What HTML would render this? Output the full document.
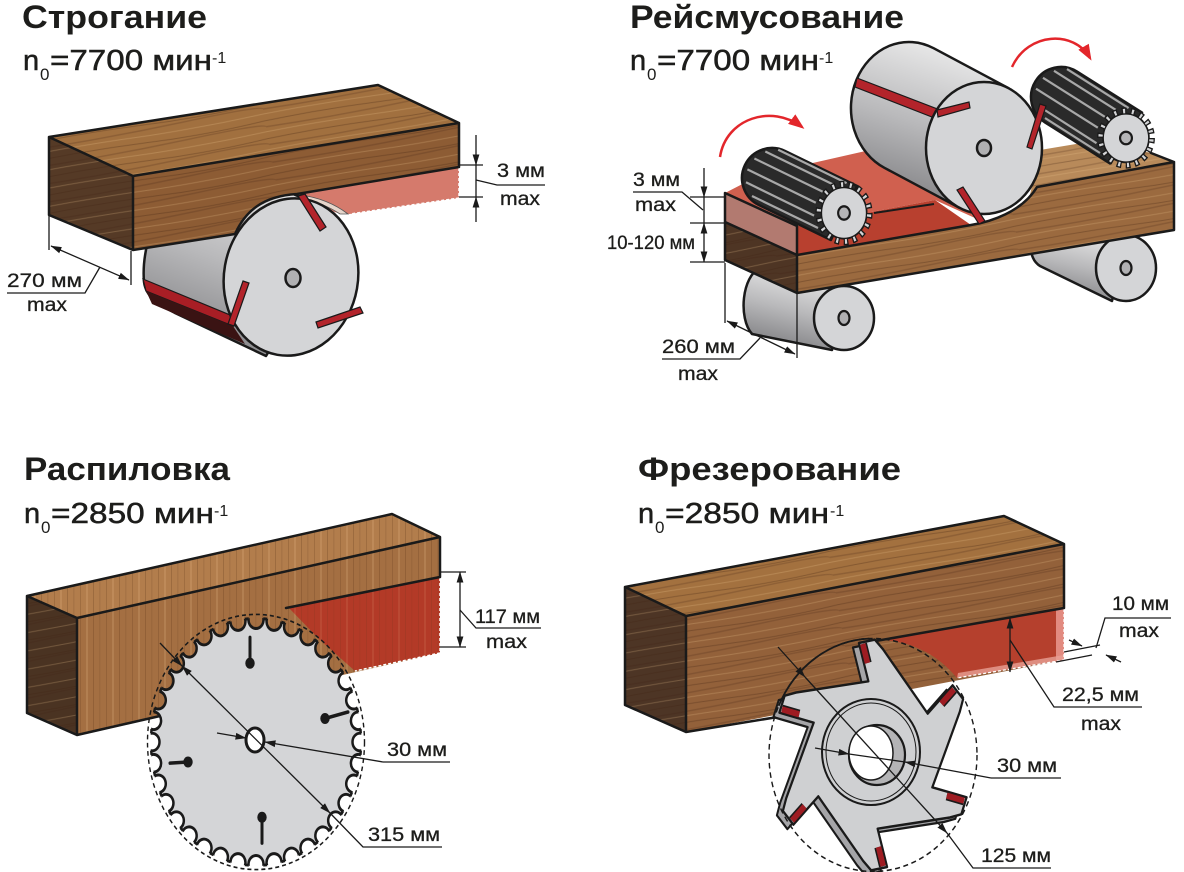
<!DOCTYPE html>
<html><head><meta charset="utf-8"><style>
html,body{margin:0;padding:0;background:#fff;}
svg{display:block;}
text{font-family:"Liberation Sans","DejaVu Sans",sans-serif;fill:#1d1d1b;}
.t{font-size:32px;font-weight:bold;}
.s{font-size:29px;stroke:#1d1d1b;stroke-width:0.5;}
.l{font-size:19px;stroke:#1d1d1b;stroke-width:0.3;}
.o{stroke:#1a1a1a;stroke-width:2.5;stroke-linejoin:round;stroke-linecap:round;}
.d{fill:none;stroke:#1a1a1a;stroke-width:1.3;}
</style></head><body>
<svg width="1184" height="872" viewBox="0 0 1184 872" xmlns="http://www.w3.org/2000/svg">
<defs>
 <marker id="a" markerUnits="userSpaceOnUse" markerWidth="11" markerHeight="8" refX="10.5" refY="4" orient="auto-start-reverse"><path d="M0,0.6 L11,4 L0,7.4 Z" fill="#1a1a1a"/></marker>
 <marker id="ra" markerUnits="userSpaceOnUse" markerWidth="16" markerHeight="12" refX="13" refY="6" orient="auto"><path d="M0,0 L16,6 L0,12 Z" fill="#e3262b"/></marker>
 <linearGradient id="cyl" x1="0.6" y1="0" x2="0.3" y2="1">
  <stop offset="0" stop-color="#ececec"/><stop offset="0.5" stop-color="#b9b9bb"/><stop offset="1" stop-color="#7c7c7f"/>
 </linearGradient>
 <pattern id="gh" width="240" height="18" patternUnits="userSpaceOnUse" patternTransform="rotate(-10)">
  <path d="M0,3 Q60,1 120,4 T240,3" stroke="#3e2210" stroke-width="1" fill="none" opacity=".3"/>
  <path d="M0,9 Q80,11 160,8 T240,9" stroke="#3e2210" stroke-width="1.4" fill="none" opacity=".22"/>
  <path d="M0,14 Q50,13 110,15 T240,14" stroke="#f0c890" stroke-width="1" fill="none" opacity=".25"/>
 </pattern>
 <pattern id="gv" width="26" height="300" patternUnits="userSpaceOnUse">
  <rect x="2" y="0" width="1" height="300" fill="#5a3418" opacity=".22"/>
  <rect x="8" y="0" width="2" height="300" fill="#f2c896" opacity=".18"/>
  <rect x="15" y="0" width="1" height="300" fill="#5a3418" opacity=".25"/>
  <rect x="21" y="0" width="1.5" height="300" fill="#5a3418" opacity=".12"/>
 </pattern>
 <circle id="gc" cx="104" cy="0" r="7.5"/>
 <mask id="sawm" maskUnits="userSpaceOnUse" x="-130" y="-130" width="260" height="260">
  <circle r="107" fill="#fff"/>
  <g fill="#000">
   <use href="#gc"/><use href="#gc" transform="rotate(10)"/><use href="#gc" transform="rotate(20)"/><use href="#gc" transform="rotate(30)"/><use href="#gc" transform="rotate(40)"/><use href="#gc" transform="rotate(50)"/><use href="#gc" transform="rotate(60)"/><use href="#gc" transform="rotate(70)"/><use href="#gc" transform="rotate(80)"/><use href="#gc" transform="rotate(90)"/><use href="#gc" transform="rotate(100)"/><use href="#gc" transform="rotate(110)"/><use href="#gc" transform="rotate(120)"/><use href="#gc" transform="rotate(130)"/><use href="#gc" transform="rotate(140)"/><use href="#gc" transform="rotate(150)"/><use href="#gc" transform="rotate(160)"/><use href="#gc" transform="rotate(170)"/><use href="#gc" transform="rotate(180)"/><use href="#gc" transform="rotate(190)"/><use href="#gc" transform="rotate(200)"/><use href="#gc" transform="rotate(210)"/><use href="#gc" transform="rotate(220)"/><use href="#gc" transform="rotate(230)"/><use href="#gc" transform="rotate(240)"/><use href="#gc" transform="rotate(250)"/><use href="#gc" transform="rotate(260)"/><use href="#gc" transform="rotate(270)"/><use href="#gc" transform="rotate(280)"/><use href="#gc" transform="rotate(290)"/><use href="#gc" transform="rotate(300)"/><use href="#gc" transform="rotate(310)"/><use href="#gc" transform="rotate(320)"/><use href="#gc" transform="rotate(330)"/><use href="#gc" transform="rotate(340)"/><use href="#gc" transform="rotate(350)"/>
  </g>
 </mask>
 <clipPath id="sawc"><circle r="105.5"/></clipPath>
 <g id="gear">
  <circle r="30" fill="none" stroke="#1a1a1a" stroke-width="8" stroke-dasharray="5.5 4.97"/>
  <circle r="27" fill="#d4d5d7" stroke="#1a1a1a" stroke-width="2"/>
  <circle r="30" fill="none" stroke="#d4d5d7" stroke-width="5" stroke-dasharray="2.5 7.97" stroke-dashoffset="-1.5"/>
  <circle r="7" fill="#b5b5b7" stroke="#1a1a1a" stroke-width="2.5"/>
 </g>
</defs>

<!-- ================= PANEL 1 ================= -->
<text class="t" x="22" y="28" textLength="185" lengthAdjust="spacingAndGlyphs">Строгание</text>
<text class="s" x="23" y="70">n</text><text x="40" y="80" font-size="17">0</text>
<text class="s" x="50" y="70" textLength="162" lengthAdjust="spacingAndGlyphs">=7700 мин</text>
<text x="212" y="63" font-size="16">-1</text>

<path d="M300,197 L210,158 C170,175 140,235 144,282 C146,298 160,305 175,313 L266,356 L300,300 Z" fill="url(#cyl)" class="o"/>
<path d="M143,279 L230,315 L233,326 L146,291 Z" fill="#a81e25" stroke="#1a1a1a" stroke-width="1.2"/>
<path d="M146,291 L233,326 L245,344 L152,304 Z" fill="#3a1313"/>

<polygon points="49,137 378,85 459,123 133,176" fill="#a1703f"/>
<polygon points="49,137 378,85 459,123 133,176" fill="url(#gh)"/>
<polygon points="49,137 133,176 133,250 49,215" fill="#553a26"/>
<polygon points="49,137 133,176 133,250 49,215" fill="url(#gh)"/>
<path d="M133,176 L459,123 L459,167 L297,194 C262,196 245,212 235,234 L133,250 Z" fill="#8d5c34"/>
<path d="M133,176 L459,123 L459,167 L297,194 C262,196 245,212 235,234 L133,250 Z" fill="url(#gh)"/>
<path d="M297,194 L459,167 L459,198 L350,214 C330,214 318,205 305,196 Z" fill="#d57a6c"/>
<path d="M300,195 C318,197 335,204 348,214 L340,214 C328,206 315,201 300,198 Z" fill="#e6d6cc" stroke="#555" stroke-width="0.8"/>
<path d="M459,168 L459,198 L350,214" fill="none" stroke="#fff" stroke-width="1.5" stroke-dasharray="3 2"/>
<path class="o" fill="none" d="M49,137 L378,85 L459,123 L459,167 M49,137 L133,176 L459,123 M133,176 L133,250 L49,215 L49,137 M133,250 L235,234 C245,212 262,196 297,194 L459,167"/>

<ellipse cx="291" cy="277" rx="67" ry="79" transform="rotate(10 291 277)" fill="#d4d5d7" class="o"/>
<ellipse cx="293" cy="278" rx="7.5" ry="9" fill="#b0b0b2" stroke="#1a1a1a" stroke-width="2.5"/>
<g stroke="#1a1a1a" stroke-width="1.2" fill="#b3242b">
 <polygon points="298,196 305,194 326,227 320,231"/>
 <polygon points="243,281 249,283 234,326 228,324"/>
 <polygon points="316,322 360,307 363,313 318,328"/>
</g>

<line class="d" x1="459" y1="165" x2="483" y2="165"/>
<line class="d" x1="459" y1="197" x2="483" y2="197"/>
<line class="d" x1="476" y1="135" x2="476" y2="165" marker-end="url(#a)"/>
<line class="d" x1="476" y1="165" x2="476" y2="197"/>
<line class="d" x1="476" y1="222" x2="476" y2="197" marker-end="url(#a)"/>
<polyline class="d" points="476,180 497,185 545,185"/>
<text class="l" x="497" y="177" textLength="48" lengthAdjust="spacingAndGlyphs">3 мм</text>
<text class="l" x="500" y="205" textLength="40" lengthAdjust="spacingAndGlyphs">max</text>

<line class="d" x1="49" y1="216" x2="49" y2="250"/>
<line class="d" x1="131" y1="251" x2="131" y2="285"/>
<line class="d" x1="51" y1="246" x2="129" y2="280" marker-start="url(#a)" marker-end="url(#a)"/>
<polyline class="d" points="100,267 85,293 7,293"/>
<text class="l" x="7" y="287" textLength="75" lengthAdjust="spacingAndGlyphs">270 мм</text>
<text class="l" x="27" y="311" textLength="40" lengthAdjust="spacingAndGlyphs">max</text>

<!-- ================= PANEL 2 ================= -->
<text class="t" x="630" y="28" textLength="274" lengthAdjust="spacingAndGlyphs">Рейсмусование</text>
<text class="s" x="630" y="70">n</text><text x="647" y="80" font-size="17">0</text>
<text class="s" x="657" y="70" textLength="162" lengthAdjust="spacingAndGlyphs">=7700 мин</text>
<text x="819" y="63" font-size="16">-1</text>

<!-- lower rollers -->
<path d="M1126,235 L1045,228 C1028,235 1027,258 1040,266 L1112,301 Z" fill="url(#cyl)" class="o"/>
<ellipse cx="1126" cy="268" rx="30" ry="33" fill="#d4d5d7" class="o"/>
<ellipse cx="1126" cy="268" rx="5.5" ry="7" fill="#b0b0b2" stroke="#1a1a1a" stroke-width="2.2"/>
<path d="M844,286 L760,268 C742,276 738,318 752,334 L832,350 Z" fill="url(#cyl)" class="o"/>
<ellipse cx="844" cy="318" rx="30" ry="32" fill="#d4d5d7" class="o"/>
<ellipse cx="844" cy="318" rx="5.5" ry="7" fill="#b0b0b2" stroke="#1a1a1a" stroke-width="2.2"/>

<!-- board -->
<polygon points="725,222 797,255 797,293 725,260" fill="#4e3524"/>
<polygon points="725,222 797,255 797,293 725,260" fill="url(#gh)"/>
<polygon points="725,193 797,226 797,255 725,222" fill="#b27a70"/>
<polygon points="725,193 797,226 935,200 975,218 990,212 930,160 870,150 760,175" fill="#d0604f"/>
<polygon points="797,226 935,200 971,225 797,255" fill="#b8402f"/>
<line x1="874" y1="213" x2="934" y2="204" stroke="#1a1a1a" stroke-width="2"/>
<path d="M797,255 L971,225 C990,222 1022,212 1037,187 L1174,162 L1174,230 L797,293 Z" fill="#9b6a3f"/>
<path d="M797,255 L971,225 C990,222 1022,212 1037,187 L1174,162 L1174,230 L797,293 Z" fill="url(#gh)"/>
<polygon points="1030,195 1040,150 1100,140 1151,153 1174,162 1037,187" fill="#b88a5a"/>
<polygon points="1030,195 1040,150 1100,140 1151,153 1174,162 1037,187" fill="url(#gh)"/>
<path class="o" fill="none" d="M725,193 L797,226 L797,293 L725,260 Z M725,222 L797,255 L971,225 C990,222 1022,212 1037,187 L1174,162 L1174,230 L797,293 M1174,162 L1151,153"/>

<!-- output gear -->
<path d="M1142,112.6 L1077,71.6 A30,30 0 0 0 1045,122.4 L1110,163.4 Z" fill="#2a2a2a" class="o"/>
<g stroke="#a8a8a8" stroke-width="2.2">
 <line x1="1097.8" y1="127.7" x2="1036" y2="88.7"/>
 <line x1="1104.8" y1="116.8" x2="1043" y2="77.8"/>
 <line x1="1115.7" y1="109.8" x2="1054" y2="70.8"/>
 <line x1="1128.6" y1="108.1" x2="1067" y2="69.1"/>
 <line x1="1096.5" y1="143.2" x2="1040" y2="107"/>
 <line x1="1100" y1="153" x2="1045" y2="118"/>
</g>
<use href="#gear" transform="translate(1126,138) scale(0.85,0.9)"/>

<!-- cutterhead -->
<path d="M1008.6,88.2 L933.6,48.2 A58,66 0 1 0 884.4,167.8 L959.4,207.8 Z" fill="url(#cyl)" class="o"/>
<polygon points="857,78 940,110 937,119 855,87" fill="#b3242b" stroke="#1a1a1a" stroke-width="1.2"/>
<ellipse cx="984" cy="148" rx="58" ry="66" fill="#d4d5d7" class="o"/>
<ellipse cx="984" cy="148" rx="7" ry="8" fill="#b0b0b2" stroke="#1a1a1a" stroke-width="2.5"/>
<g stroke="#1a1a1a" stroke-width="1.2" fill="#b3242b">
 <polygon points="937,110 969,102 970,108 938,117"/>
 <polygon points="1040,104 1046,106 1032,149 1027,147"/>
 <polygon points="957,190 963,187 985,221 979,224"/>
</g>

<!-- feed gear -->
<path d="M857.1,186 L785.1,151 A30,30 0 0 0 758.9,205 L830.9,240 Z" fill="#2a2a2a" class="o"/>
<g stroke="#a8a8a8" stroke-width="2.2">
 <line x1="818" y1="228" x2="752" y2="196"/>
 <line x1="814.1" y1="215.6" x2="746" y2="182.3"/>
 <line x1="815.8" y1="202.7" x2="747.4" y2="169.4"/>
 <line x1="822.8" y1="191.8" x2="754.4" y2="158.5"/>
 <line x1="833.7" y1="184.8" x2="765.3" y2="151.5"/>
 <line x1="846.6" y1="183.1" x2="778.2" y2="149.8"/>
</g>
<use href="#gear" transform="translate(844,213) scale(0.84,0.95)"/>

<!-- red arrows -->
<path d="M720,157 C726,118 772,104 802,127" fill="none" stroke="#e3262b" stroke-width="2.5" marker-end="url(#ra)"/>
<path d="M1012,67 C1028,32 1074,30 1090,58" fill="none" stroke="#e3262b" stroke-width="2.5" marker-end="url(#ra)"/>

<!-- dims panel 2 -->
<line class="d" x1="690" y1="197" x2="725" y2="197"/>
<line class="d" x1="690" y1="223" x2="725" y2="223"/>
<line class="d" x1="690" y1="262" x2="725" y2="262"/>
<line class="d" x1="704" y1="168" x2="704" y2="197" marker-end="url(#a)"/>
<line class="d" x1="704" y1="197" x2="704" y2="223"/>
<line class="d" x1="704" y1="242" x2="704" y2="223" marker-end="url(#a)"/>
<line class="d" x1="704" y1="242" x2="704" y2="262" marker-end="url(#a)"/>
<polyline class="d" points="633,192 682,192 703,210"/>
<text class="l" x="633" y="186" textLength="47" lengthAdjust="spacingAndGlyphs">3 мм</text>
<text class="l" x="635" y="211" textLength="41" lengthAdjust="spacingAndGlyphs">max</text>
<text class="l" x="607" y="249" textLength="88" lengthAdjust="spacingAndGlyphs">10-120 мм</text>
<line class="d" x1="725" y1="263" x2="725" y2="323"/>
<line class="d" x1="797" y1="294" x2="797" y2="358"/>
<line class="d" x1="727" y1="321" x2="795" y2="354" marker-start="url(#a)" marker-end="url(#a)"/>
<polyline class="d" points="760,338 740,359 662,359"/>
<text class="l" x="662" y="353" textLength="73" lengthAdjust="spacingAndGlyphs">260 мм</text>
<text class="l" x="678" y="380" textLength="40" lengthAdjust="spacingAndGlyphs">max</text>

<!-- ================= PANEL 3 ================= -->
<text class="t" x="24" y="480" textLength="206" lengthAdjust="spacingAndGlyphs">Распиловка</text>
<text class="s" x="24" y="523">n</text><text x="41" y="533" font-size="17">0</text>
<text class="s" x="51" y="523" textLength="163" lengthAdjust="spacingAndGlyphs">=2850 мин</text>
<text x="214" y="516" font-size="16">-1</text>

<polygon points="27,596 392,514 440,537 77,618" fill="#b27d4c"/>
<polygon points="27,596 392,514 440,537 77,618" fill="url(#gv)"/>
<polygon points="27,596 77,618 77,735 27,713" fill="#4a3322"/>
<polygon points="27,596 77,618 77,735 27,713" fill="url(#gh)"/>
<polygon points="77,618 440,537 440,653 77,735" fill="#a46f42"/>
<polygon points="77,618 440,537 440,653 77,735" fill="url(#gv)"/>
<path d="M288,607 L440,577 L440,653 L355,671 L320,640 Z" fill="#b33a27"/>
<path d="M288,607 L440,577 L440,653 L355,671 L320,640 Z" fill="url(#gv)" opacity=".6"/>
<path d="M440,578 L440,653 L355,671" fill="none" stroke="#fff" stroke-width="1.5" stroke-dasharray="3 2"/>
<path class="o" fill="none" d="M27,596 L392,514 L440,537 L440,577 M27,596 L77,618 L440,537 M77,618 L77,735 L27,713 L27,596 M77,735 L160,716 M286,608 L440,577"/>

<g transform="translate(256,742) scale(1,1.176)">
 <circle r="105" fill="#d4d5d7" stroke="#1a1a1a" stroke-width="2.5" mask="url(#sawm)"/>
 <g clip-path="url(#sawc)" fill="none" stroke="#1a1a1a" stroke-width="2.5">
  <use href="#gc"/><use href="#gc" transform="rotate(10)"/><use href="#gc" transform="rotate(20)"/><use href="#gc" transform="rotate(30)"/><use href="#gc" transform="rotate(40)"/><use href="#gc" transform="rotate(50)"/><use href="#gc" transform="rotate(60)"/><use href="#gc" transform="rotate(70)"/><use href="#gc" transform="rotate(80)"/><use href="#gc" transform="rotate(90)"/><use href="#gc" transform="rotate(100)"/><use href="#gc" transform="rotate(110)"/><use href="#gc" transform="rotate(120)"/><use href="#gc" transform="rotate(130)"/><use href="#gc" transform="rotate(140)"/><use href="#gc" transform="rotate(150)"/><use href="#gc" transform="rotate(160)"/><use href="#gc" transform="rotate(170)"/><use href="#gc" transform="rotate(180)"/><use href="#gc" transform="rotate(190)"/><use href="#gc" transform="rotate(200)"/><use href="#gc" transform="rotate(210)"/><use href="#gc" transform="rotate(220)"/><use href="#gc" transform="rotate(230)"/><use href="#gc" transform="rotate(240)"/><use href="#gc" transform="rotate(250)"/><use href="#gc" transform="rotate(260)"/><use href="#gc" transform="rotate(270)"/><use href="#gc" transform="rotate(280)"/><use href="#gc" transform="rotate(290)"/><use href="#gc" transform="rotate(300)"/><use href="#gc" transform="rotate(310)"/><use href="#gc" transform="rotate(320)"/><use href="#gc" transform="rotate(330)"/><use href="#gc" transform="rotate(340)"/><use href="#gc" transform="rotate(350)"/>
 </g>
 <circle r="108.5" fill="none" stroke="#1a1a1a" stroke-width="1.4" stroke-dasharray="4 3"/>
 <g stroke="#1a1a1a" stroke-width="3" stroke-linecap="round" fill="#1a1a1a">
  <line x1="-6" y1="-89" x2="-6" y2="-67"/><circle cx="-6" cy="-67" r="3.2"/>
  <line x1="69" y1="-20" x2="92" y2="-25.5"/><circle cx="69" cy="-20" r="3.2"/>
  <line x1="-86" y1="18" x2="-68" y2="17"/><circle cx="-68" cy="17" r="3.2"/>
  <line x1="6" y1="64" x2="6" y2="86"/><circle cx="6" cy="64" r="3.2"/>
 </g>
</g>
<ellipse cx="255" cy="740" rx="9" ry="12" fill="#fff" stroke="#1a1a1a" stroke-width="3"/>

<!-- dims panel 3 -->
<line class="d" x1="440" y1="572" x2="466" y2="572"/>
<line class="d" x1="440" y1="647" x2="466" y2="647"/>
<line class="d" x1="460" y1="610" x2="460" y2="572" marker-end="url(#a)"/>
<line class="d" x1="460" y1="610" x2="460" y2="647" marker-end="url(#a)"/>
<polyline class="d" points="460,610 476,628 541,628"/>
<text class="l" x="475" y="623" textLength="65" lengthAdjust="spacingAndGlyphs">117 мм</text>
<text class="l" x="486" y="648" textLength="41" lengthAdjust="spacingAndGlyphs">max</text>
<line class="d" x1="217" y1="733" x2="246" y2="738" marker-end="url(#a)"/>
<line class="d" x1="383" y1="762" x2="265" y2="742" marker-end="url(#a)"/>
<line class="d" x1="383" y1="762" x2="450" y2="762"/>
<text class="l" x="387" y="756" textLength="60" lengthAdjust="spacingAndGlyphs">30 мм</text>
<line class="d" x1="160" y1="643" x2="182" y2="666" marker-end="url(#a)"/>
<line class="d" x1="182" y1="666" x2="330" y2="813" marker-start="url(#a)" marker-end="url(#a)" stroke-width="1.2"/>
<polyline class="d" points="330,813 363,847 442,847"/>
<text class="l" x="368" y="841" textLength="72" lengthAdjust="spacingAndGlyphs">315 мм</text>

<!-- ================= PANEL 4 ================= -->
<text class="t" x="638" y="480" textLength="263" lengthAdjust="spacingAndGlyphs">Фрезерование</text>
<text class="s" x="638" y="523">n</text><text x="655" y="533" font-size="17">0</text>
<text class="s" x="665" y="523" textLength="164" lengthAdjust="spacingAndGlyphs">=2850 мин</text>
<text x="830" y="516" font-size="16">-1</text>

<polygon points="625,587 1004,516 1064,544 686,616" fill="#a3713f"/>
<polygon points="625,587 1004,516 1064,544 686,616" fill="url(#gh)"/>
<polygon points="625,587 686,616 686,732 625,705" fill="#4d3525"/>
<polygon points="625,587 686,616 686,732 625,705" fill="url(#gh)"/>
<polygon points="686,616 1064,544 1064,660 686,732" fill="#93613a"/>
<polygon points="686,616 1064,544 1064,660 686,732" fill="url(#gh)"/>
<path d="M881,640 L1064,608 L1064,660 L957,678 A105,117.6 0 0 0 881,640 Z" fill="#b5402d"/>
<polygon points="1056,609.5 1064,608 1064,660 1056,661.5" fill="#e28b80"/>
<polygon points="957,678 1064,660 1064,655 958,673" fill="#e8a095" opacity=".8"/>
<path d="M1064,609 L1064,660 L957,678" fill="none" stroke="#fff" stroke-width="1.3" stroke-dasharray="3 2"/>
<path class="o" fill="none" d="M625,587 L1004,516 L1064,544 L1064,608 M625,587 L686,616 L1064,544 M686,616 L686,732 L625,705 L625,587 M686,732 L790,715 M870,642 L1064,608"/>

<g transform="translate(873,755) scale(1,1.12)">
 <path transform="translate(-6,4)" d="M-4.6,-65.8 L-14.1,-100 L1.8,-103 L9.9,-94.5 L54.7,-36.9 L79.6,-62.2 L90.1,-49.9 L86.8,-38.6 L59.3,28.9 L93.6,37.8 L88.3,53 L76.9,55.8 L4.6,65.8 L14.1,100 L-1.8,103 L-9.9,94.5 L-54.7,36.9 L-79.6,62.2 L-90.1,49.9 L-86.8,38.6 L-59.3,-28.9 L-93.6,-37.8 L-88.3,-53 L-76.9,-55.8 Z" fill="#a5a5a8" stroke="#1a1a1a" stroke-width="2" stroke-linejoin="round"/>
 <path d="M-4.6,-65.8 L-14.1,-100 L1.8,-103 L9.9,-94.5 L54.7,-36.9 L79.6,-62.2 L90.1,-49.9 L86.8,-38.6 L59.3,28.9 L93.6,37.8 L88.3,53 L76.9,55.8 L4.6,65.8 L14.1,100 L-1.8,103 L-9.9,94.5 L-54.7,36.9 L-79.6,62.2 L-90.1,49.9 L-86.8,38.6 L-59.3,-28.9 L-93.6,-37.8 L-88.3,-53 L-76.9,-55.8 Z" fill="#cfd0d2" stroke="#1a1a1a" stroke-width="2.2" stroke-linejoin="round"/>
 <g stroke="#1a1a1a" stroke-width="8.5">
  <line x1="-5.5" y1="-82.1" x2="-10.2" y2="-99.2"/>
  <line x1="68.4" y1="-45.8" x2="80.9" y2="-58.5"/>
  <line x1="73.8" y1="36.3" x2="91" y2="40.8"/>
  <line x1="5.5" y1="82.1" x2="10.2" y2="99.2"/>
  <line x1="-68.4" y1="45.8" x2="-80.9" y2="58.5"/>
  <line x1="-73.8" y1="-36.3" x2="-91" y2="-40.8"/>
 </g>
 <g stroke="#9e1c22" stroke-width="5.5">
  <line x1="-5.5" y1="-82.1" x2="-10.2" y2="-99.2"/>
  <line x1="68.4" y1="-45.8" x2="80.9" y2="-58.5"/>
  <line x1="73.8" y1="36.3" x2="91" y2="40.8"/>
  <line x1="5.5" y1="82.1" x2="10.2" y2="99.2"/>
  <line x1="-68.4" y1="45.8" x2="-80.9" y2="58.5"/>
  <line x1="-73.8" y1="-36.3" x2="-91" y2="-40.8"/>
 </g>
 <circle r="104" fill="none" stroke="#1a1a1a" stroke-width="1.4" stroke-dasharray="5 3.5"/>
</g>
<path d="M778.7,705.8 A104,116.5 0 0 1 869.4,638.6" fill="none" stroke="#1a1a1a" stroke-width="1.8"/>
<ellipse cx="871" cy="752" rx="49" ry="53" fill="none" stroke="#1a1a1a" stroke-width="2"/>
<ellipse cx="871" cy="752" rx="45" ry="49" fill="none" stroke="#1a1a1a" stroke-width="1"/>
<ellipse cx="877" cy="755" rx="28" ry="30" fill="#b4b4b6" stroke="#1a1a1a" stroke-width="2.2"/>
<ellipse cx="871" cy="753" rx="22" ry="27" fill="#fff" stroke="#1a1a1a" stroke-width="1.5"/>

<!-- dims panel 4 -->
<line class="d" x1="1056" y1="662" x2="1092" y2="655"/>
<line class="d" x1="1064" y1="652" x2="1100" y2="645"/>
<line class="d" x1="1069" y1="640" x2="1082" y2="646" marker-end="url(#a)"/>
<line class="d" x1="1121" y1="662" x2="1106" y2="655" marker-end="url(#a)"/>
<polyline class="d" points="1096,648 1105,618 1171,618"/>
<text class="l" x="1112" y="610" textLength="57" lengthAdjust="spacingAndGlyphs">10 мм</text>
<text class="l" x="1119" y="637" textLength="40" lengthAdjust="spacingAndGlyphs">max</text>
<line class="d" x1="1010" y1="645" x2="1010" y2="618" marker-end="url(#a)"/>
<line class="d" x1="1010" y1="645" x2="1010" y2="672" marker-end="url(#a)"/>
<polyline class="d" points="1010,640 1054,707 1142,707"/>
<text class="l" x="1062" y="701" textLength="77" lengthAdjust="spacingAndGlyphs">22,5 мм</text>
<text class="l" x="1081" y="730" textLength="40" lengthAdjust="spacingAndGlyphs">max</text>
<line class="d" x1="815" y1="748" x2="849" y2="754" marker-end="url(#a)"/>
<line class="d" x1="991" y1="778" x2="905" y2="762" marker-end="url(#a)"/>
<line class="d" x1="849" y1="754" x2="905" y2="762"/>
<line class="d" x1="991" y1="778" x2="1061" y2="778"/>
<text class="l" x="997" y="772" textLength="60" lengthAdjust="spacingAndGlyphs">30 мм</text>
<line class="d" x1="778" y1="647" x2="805" y2="677" marker-end="url(#a)"/>
<line class="d" x1="805" y1="677" x2="947" y2="833" marker-end="url(#a)"/>
<polyline class="d" points="947,833 973,868 1051,868"/>
<text class="l" x="981" y="862" textLength="70" lengthAdjust="spacingAndGlyphs">125 мм</text>
</svg>
</body></html>
